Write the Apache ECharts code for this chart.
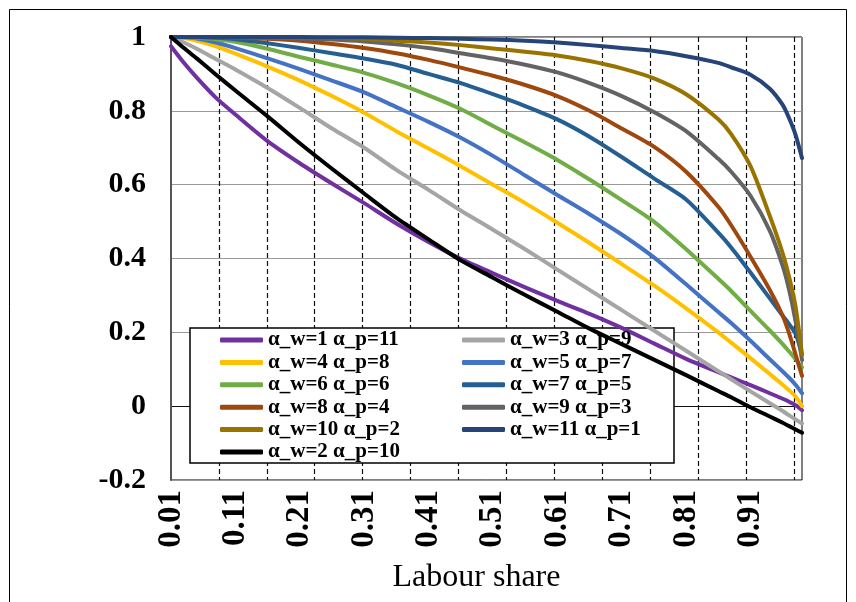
<!DOCTYPE html>
<html>
<head>
<meta charset="utf-8">
<script src="https://cdn.jsdelivr.net/npm/echarts@6/dist/echarts.min.js"></script>
<style>html,body{margin:0;padding:0;background:#fff}#chart{width:856px;height:602px}</style>
</head>
<body>
<div id="chart"></div>
<script>
const categories = ['0.01','0.02','0.03','0.04','0.05','0.06','0.07','0.08','0.09','0.10',
'0.11','0.12','0.13','0.14','0.15','0.16','0.17','0.18','0.19','0.20',
'0.21','0.22','0.23','0.24','0.25','0.26','0.27','0.28','0.29','0.30',
'0.31','0.32','0.33','0.34','0.35','0.36','0.37','0.38','0.39','0.40',
'0.41','0.42','0.43','0.44','0.45','0.46','0.47','0.48','0.49','0.50',
'0.51','0.52','0.53','0.54','0.55','0.56','0.57','0.58','0.59','0.60',
'0.61','0.62','0.63','0.64','0.65','0.66','0.67','0.68','0.69','0.70',
'0.71','0.72','0.73','0.74','0.75','0.76','0.77','0.78','0.79','0.80',
'0.81','0.82','0.83','0.84','0.85','0.86','0.87','0.88','0.89','0.90',
'0.91','0.92','0.93','0.94','0.95','0.96','0.97','0.98','0.99'];

const sampleX = ['0.01','0.03','0.05','0.08','0.11','0.16','0.21','0.26','0.31','0.36','0.41','0.46','0.51','0.56','0.61','0.66','0.71','0.76','0.81','0.86','0.88','0.91','0.94','0.96','0.97','0.98','0.99'];

const w1p11 = [0.975,0.93,0.89,0.835,0.79,0.718,0.658,0.603,0.55,0.495,0.445,0.399,0.36,0.322,0.285,0.25,0.212,0.17,0.128,0.092,0.078,0.057,0.035,0.02,0.012,0.003,-0.011];
const w3p9  = [1.0,0.985,0.968,0.94,0.912,0.862,0.808,0.752,0.70,0.64,0.586,0.53,0.478,0.425,0.37,0.315,0.26,0.205,0.15,0.095,0.073,0.04,0.008,-0.013,-0.025,-0.036,-0.047];
const w4p8  = [1.0,0.997,0.99,0.975,0.955,0.92,0.882,0.84,0.795,0.745,0.698,0.65,0.6,0.55,0.497,0.442,0.385,0.327,0.265,0.2,0.172,0.13,0.087,0.058,0.043,0.026,0.0];
const w5p7  = [1.0,0.999,0.996,0.985,0.97,0.942,0.913,0.882,0.85,0.81,0.77,0.727,0.678,0.625,0.572,0.52,0.465,0.403,0.33,0.255,0.225,0.177,0.127,0.094,0.077,0.058,0.035];
const w6p6  = [1.0,1.0,0.998,0.994,0.987,0.968,0.946,0.925,0.903,0.875,0.842,0.805,0.759,0.714,0.667,0.614,0.558,0.5,0.425,0.345,0.312,0.258,0.205,0.168,0.148,0.128,0.105];
const w7p5  = [1.0,1.0,1.0,0.998,0.994,0.983,0.97,0.956,0.942,0.925,0.9,0.875,0.845,0.813,0.777,0.73,0.675,0.617,0.56,0.47,0.43,0.362,0.292,0.245,0.222,0.196,0.14];
const w8p4  = [1.0,1.0,1.0,0.999,0.998,0.995,0.99,0.981,0.97,0.956,0.938,0.917,0.895,0.87,0.84,0.8,0.752,0.703,0.635,0.54,0.49,0.405,0.315,0.245,0.197,0.14,0.082];
const w9p3  = [1.0,1.0,1.0,1.0,0.999,0.998,0.996,0.993,0.988,0.98,0.97,0.956,0.942,0.925,0.904,0.875,0.84,0.797,0.745,0.67,0.635,0.57,0.475,0.38,0.315,0.23,0.125];
const w10p2 = [1.0,1.0,1.0,1.0,1.0,0.999,0.999,0.998,0.995,0.99,0.985,0.978,0.969,0.96,0.95,0.935,0.915,0.888,0.845,0.777,0.737,0.65,0.515,0.414,0.35,0.27,0.14];
const w11p1 = [1.0,1.0,1.0,1.0,1.0,1.0,1.0,0.999,0.999,0.998,0.997,0.995,0.993,0.99,0.985,0.978,0.97,0.962,0.948,0.93,0.918,0.898,0.86,0.816,0.78,0.735,0.672];
const w2p10 = [1.0,0.97,0.942,0.898,0.855,0.785,0.712,0.643,0.576,0.51,0.452,0.395,0.348,0.301,0.256,0.21,0.168,0.126,0.084,0.041,0.024,-0.003,-0.028,-0.045,-0.054,-0.063,-0.072];

const seriesNames = ['α_w=1 α_p=11','α_w=3 α_p=9','α_w=4 α_p=8','α_w=5 α_p=7','α_w=6 α_p=6','α_w=7 α_p=5','α_w=8 α_p=4','α_w=9 α_p=3','α_w=10 α_p=2','α_w=11 α_p=1','α_w=2 α_p=10'];
const seriesValues = [w1p11,w3p9,w4p8,w5p7,w6p6,w7p5,w8p4,w9p3,w10p2,w11p1,w2p10];
const seriesColors = ['#7030A0','#A5A5A5','#FFC000','#4472C4','#70AD47','#255E91','#9E480E','#636363','#997300','#264478','#000000'];

const legendLeft = ['α_w=1 α_p=11','α_w=4 α_p=8','α_w=6 α_p=6','α_w=8 α_p=4','α_w=10 α_p=2','α_w=2 α_p=10'];
const legendRight = ['α_w=3 α_p=9','α_w=5 α_p=7','α_w=7 α_p=5','α_w=9 α_p=3','α_w=11 α_p=1'];

const yTicks = {min: -0.2, max: 1, interval: 0.2};
const xTitle = 'Labour share';

const FONT = 'Liberation Serif';
const chart = echarts.init(document.getElementById('chart'), null, {renderer: 'canvas'});

const legendCommon = {
  orient: 'vertical', padding: 0, itemGap: 0.4, itemWidth: 43, itemHeight: 5,
  icon: 'roundRect', selectedMode: false,
  textStyle: {fontFamily: FONT, fontWeight: 'bold', fontSize: 21, color: '#000', lineHeight: 22}
};

chart.setOption({
  animation: false,
  backgroundColor: '#fff',
  grid: {left: 171, top: 37, width: 631, height: 443, show: true, borderColor: '#000', borderWidth: 1, outerBoundsMode: 'none'},
  xAxis: [{
    type: 'category', data: categories, boundaryGap: false,
    name: xTitle, nameLocation: 'middle', nameGap: 82,
    nameTextStyle: {fontFamily: FONT, fontSize: 32, color: '#000', padding: [0, 20, 0, 0]},
    axisLine: {show: false, onZero: false},
    axisTick: {show: false},
    splitLine: {show: false},
    axisLabel: {interval: 9, rotate: 90, margin: 10,
      fontFamily: FONT, fontWeight: 'bold', fontSize: 33, color: '#000'}
  }, {
    type: 'value', min: 0, max: 98, interval: 7.44, position: 'bottom',
    axisLine: {show: false}, axisTick: {show: false}, axisLabel: {show: false},
    splitLine: {show: true, showMinLine: false, showMaxLine: false,
      lineStyle: {color: '#111', width: 1.2, type: [5, 3]}}
  }],
  yAxis: {
    type: 'value', min: yTicks.min, max: yTicks.max, interval: yTicks.interval,
    axisLine: {show: true, lineStyle: {color: '#555', width: 2}},
    axisTick: {show: false},
    axisLabel: {margin: 25, fontFamily: FONT, fontWeight: 'bold', fontSize: 30, color: '#000',
      formatter: v => String(Math.round(v * 10) / 10)},
    splitLine: {show: true, lineStyle: {color: ['#999', '#111', '#999', '#999', '#999', '#999', '#999'], width: 1}}
  },
  legend: [
    Object.assign({left: 220, top: 329, data: legendLeft}, legendCommon),
    Object.assign({left: 462, top: 329, data: legendRight}, legendCommon)
  ],
  graphic: [
    {type: 'rect', z: 3, shape: {x: 190, y: 328, width: 484, height: 135},
      style: {fill: '#fff', stroke: '#000', lineWidth: 1.5}},
    {type: 'rect', z: 0, silent: true, shape: {x: 9.5, y: 9.5, width: 837, height: 605},
      style: {fill: 'none', stroke: '#000', lineWidth: 1}}
  ],
  series: seriesNames.map((name, k) => ({
    type: 'line', name: name, xAxisIndex: 0,
    symbol: 'none', smooth: 0.25,
    lineStyle: {width: 4, color: seriesColors[k], cap: 'round', join: 'round'},
    itemStyle: {color: seriesColors[k]},
    data: sampleX.map((x, i) => [x, seriesValues[k][i]])
  }))
});
</script>
</body>
</html>
